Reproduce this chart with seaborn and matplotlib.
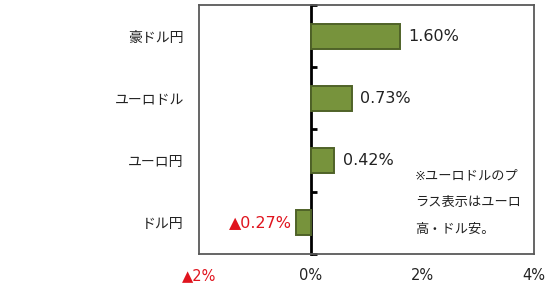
import matplotlib
matplotlib.use("Agg")
import matplotlib.pyplot as plt
import seaborn as sns
import pandas as pd

categories = ["豪ドル円", "ユーロドル", "ユーロ円", "ドル円"]
values = [1.60, 0.73, 0.42, -0.27]
value_labels = ["1.60%", "0.73%", "0.42%", "▲0.27%"]
xticks = [-2, 0, 2, 4]
xtick_labels = ["▲2%", "0%", "2%", "4%"]
note_lines = ["※ユーロドルのプ", "ラス表示はユーロ", "高・ドル安。"]

sns.set_theme(style="white")
plt.rcParams["font.family"] = ["DejaVu Sans", "Noto Sans CJK JP"]

df = pd.DataFrame({"cat": categories, "val": values})

fig = plt.figure(figsize=(5.5, 2.9), dpi=100)
ax = fig.add_axes([0.362, 0.124, 0.609, 0.859])

sns.barplot(data=df, x="val", y="cat", orient="h", ax=ax, width=0.4,
            color="#77933C", edgecolor="#4F6228", linewidth=1.4, saturation=1)

ax.set_xlim(-2, 4)
ax.set_ylim(3.5, -0.5)
ax.set_xlabel("")
ax.set_ylabel("")
ax.set_xticks(xticks)
ax.set_xticklabels(xtick_labels, fontsize=10.5)
for t, v in zip(ax.get_xticklabels(), xticks):
    t.set_color("#E0141E" if v < 0 else "#222222")
ax.tick_params(axis="x", direction="in", length=3, color="#A6A6A6", pad=10)
ax.tick_params(axis="y", length=0, pad=11, labelsize=10, labelcolor="#222222")

for s in ax.spines.values():
    s.set_color("#595959")
    s.set_linewidth(1.3)
    s.set_visible(True)

# zero axis with category-boundary ticks
sec = ax.secondary_yaxis(1/3)
sec.set_yticks([-0.5, 0.5, 1.5, 2.5, 3.5])
sec.set_yticklabels([])
sec.tick_params(axis="y", direction="in", length=4, width=2, color="black")
sec.spines["left"].set_color("black")
sec.spines["left"].set_linewidth(2)

for i, (v, lab) in enumerate(zip(values, value_labels)):
    if v >= 0:
        ax.annotate(lab, (v, i), xytext=(6, 0), textcoords="offset points",
                    ha="left", va="center", fontsize=11.5, color="#222222")
    else:
        ax.annotate(lab, (v, i), xytext=(-3, 0), textcoords="offset points",
                    ha="right", va="center", fontsize=11.5, color="#E0141E")

for j, line in enumerate(note_lines):
    ax.text(0.645, 0.315 - j * 0.108, line, transform=ax.transAxes,
            ha="left", va="center", fontsize=9.5, color="#222222")

fig.savefig("out.png", dpi=100)
